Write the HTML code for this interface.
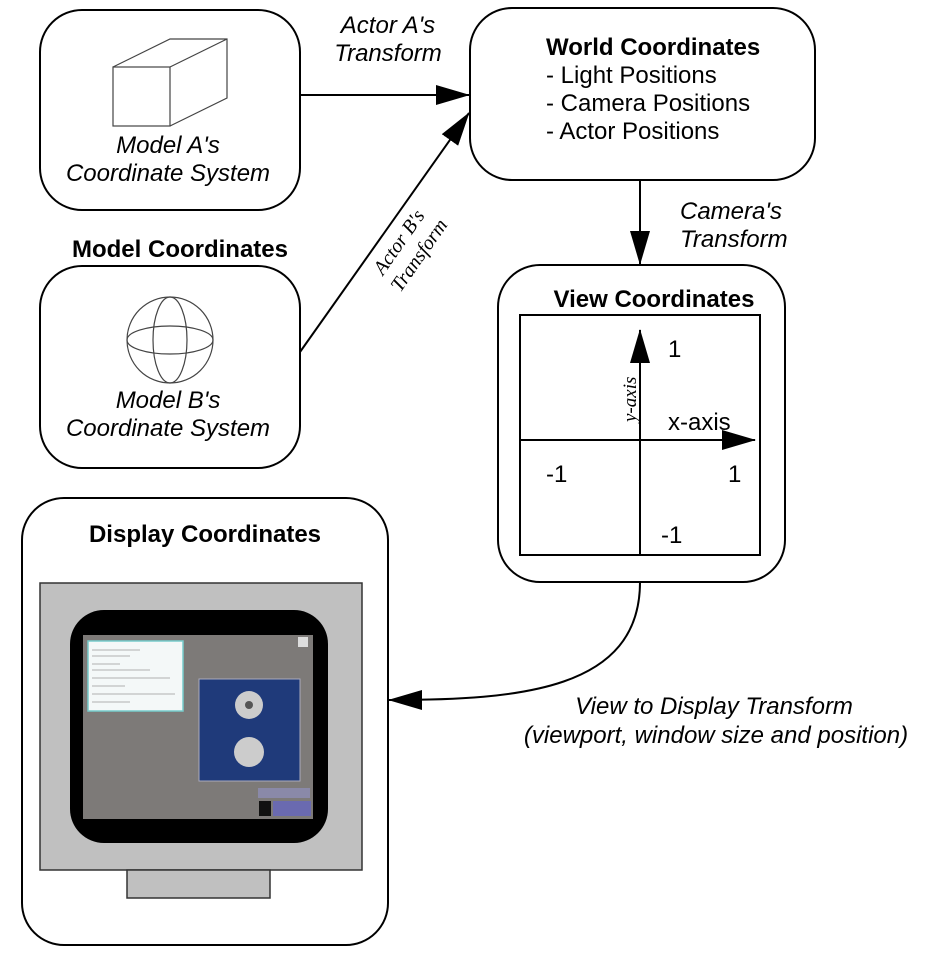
<!DOCTYPE html>
<html><head><meta charset="utf-8"><style>
html,body{margin:0;padding:0;background:#fff;}
svg{display:block;}
text{font-family:"Liberation Sans",Arial,sans-serif;fill:#000;}
</style></head><body>
<svg width="934" height="960" viewBox="0 0 934 960" xmlns="http://www.w3.org/2000/svg">
<defs>
<marker id="ah2" markerWidth="34" markerHeight="20" refX="33" refY="10" orient="auto" markerUnits="userSpaceOnUse" viewBox="0 0 34 20">
<path d="M0,0 L34,10 L0,20 z" fill="#000"/>
</marker>
</defs>
<g fill="none" stroke="#000" stroke-width="2">
<rect x="40" y="10" width="260" height="200" rx="42"/>
<rect x="40" y="266" width="260" height="202" rx="42"/>
<rect x="470" y="8" width="345" height="172" rx="42"/>
<rect x="498" y="265" width="287" height="317" rx="42"/>
<rect x="22" y="498" width="366" height="447" rx="42"/>
</g>
<g fill="none" stroke="#444" stroke-width="1.2">
<rect x="113" y="67" width="57" height="59"/>
<path d="M113,67 L170,39 L227,39 L227,98 L170,126 M170,67 L227,39"/>
</g>
<g fill="none" stroke="#444" stroke-width="1.2">
<circle cx="170" cy="340" r="43"/>
<ellipse cx="170" cy="340" rx="17" ry="43"/>
<ellipse cx="170" cy="340" rx="43" ry="14"/>
</g>
<g font-size="24">
<text x="168" y="153" font-style="italic" text-anchor="middle">Model A's</text>
<text x="168" y="181" font-style="italic" text-anchor="middle">Coordinate System</text>
<text x="180" y="257" font-weight="bold" text-anchor="middle">Model Coordinates</text>
<text x="168" y="408" font-style="italic" text-anchor="middle">Model B's</text>
<text x="168" y="436" font-style="italic" text-anchor="middle">Coordinate System</text>
<text x="388" y="33" font-style="italic" text-anchor="middle">Actor  A's</text>
<text x="388" y="61" font-style="italic" text-anchor="middle">Transform</text>
<text x="546" y="55" font-weight="bold">World Coordinates</text>
<text x="546" y="83">- Light Positions</text>
<text x="546" y="111">- Camera Positions</text>
<text x="546" y="139">- Actor Positions</text>
<text x="680" y="219" font-style="italic">Camera's</text>
<text x="680" y="247" font-style="italic">Transform</text>
<text x="654" y="307" font-weight="bold" text-anchor="middle">View Coordinates</text>
<text x="205" y="542" font-weight="bold" text-anchor="middle">Display Coordinates</text>
<text x="714" y="714" font-style="italic" text-anchor="middle">View to Display Transform</text>
<text x="716" y="743" font-style="italic" text-anchor="middle">(viewport, window size and position)</text>
<text x="668" y="357">1</text>
<text x="668" y="430">x-axis</text>
<text x="546" y="482">-1</text>
<text x="728" y="482">1</text>
<text x="661" y="543">-1</text>
</g>
<g transform="translate(383,276) rotate(-55)">
<text x="0" y="0" font-size="20" font-style="italic" style="font-family:'Liberation Serif',serif">Actor B's</text>
<text x="-4" y="24" font-size="20" font-style="italic" style="font-family:'Liberation Serif',serif">Transform</text>
</g>
<g fill="none" stroke="#000" stroke-width="2">
<line x1="300" y1="95" x2="469" y2="95" marker-end="url(#ah2)"/>
<line x1="300" y1="352" x2="469" y2="113" marker-end="url(#ah2)"/>
<line x1="640" y1="180" x2="640" y2="264" marker-end="url(#ah2)"/>
<path d="M640,582 C640,690 520,700 389,700" marker-end="url(#ah2)"/>
</g>
<rect x="520" y="315" width="240" height="240" fill="none" stroke="#000" stroke-width="2"/>
<line x1="520" y1="440" x2="755" y2="440" stroke="#000" stroke-width="2" marker-end="url(#ah2)"/>
<line x1="640" y1="555" x2="640" y2="330" stroke="#000" stroke-width="2" marker-end="url(#ah2)"/>
<text transform="translate(636,422) rotate(-90)" font-size="19" font-style="italic" style="font-family:'Liberation Serif',serif" fill="#555">y-axis</text>
<rect x="40" y="583" width="322" height="287" fill="#c0c0c0" stroke="#333" stroke-width="1.5"/>
<rect x="127" y="870" width="143" height="28" fill="#c0c0c0" stroke="#333" stroke-width="1.5"/>
<rect x="70" y="610" width="258" height="233" rx="34" fill="#000"/>
<rect x="83" y="635" width="230" height="184" fill="#7d7a78"/>
<rect x="88" y="641" width="95" height="70" fill="#f4f8f8" stroke="#7cc" stroke-width="1.5"/>
<g stroke="#999" stroke-width="0.8">
<line x1="92" y1="650" x2="140" y2="650"/><line x1="92" y1="656" x2="130" y2="656"/>
<line x1="92" y1="664" x2="120" y2="664"/><line x1="92" y1="670" x2="150" y2="670"/>
<line x1="92" y1="678" x2="170" y2="678"/><line x1="92" y1="686" x2="125" y2="686"/>
<line x1="92" y1="694" x2="175" y2="694"/><line x1="92" y1="702" x2="130" y2="702"/>
</g>
<rect x="199" y="679" width="101" height="102" fill="#1f3a7a" stroke="#aab" stroke-width="1"/>
<circle cx="249" cy="705" r="14" fill="#ccc"/>
<circle cx="249" cy="705" r="4" fill="#555"/>
<circle cx="249" cy="752" r="15" fill="#ccc"/>
<rect x="298" y="637" width="10" height="10" fill="#ddd"/>
<rect x="258" y="788" width="52" height="10" fill="#8a89a8"/>
<rect x="259" y="801" width="12" height="15" fill="#111"/>
<rect x="273" y="801" width="38" height="15" fill="#6a6ab0"/>
</svg>
</body></html>
